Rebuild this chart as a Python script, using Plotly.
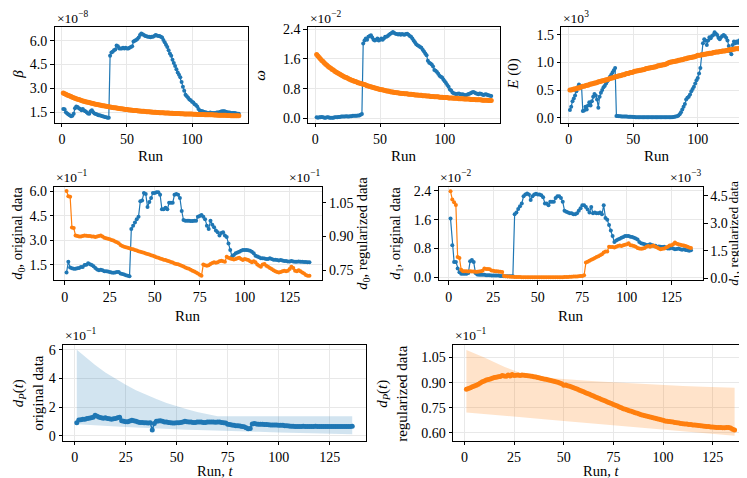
import plotly.graph_objects as go

# ---------------- data ----------------
beta_blue = [1.70,1.68,1.50,1.42,1.35,1.30,1.25,1.28,1.40,1.75,1.85,1.82,1.75,1.70,1.62,1.70,1.60,1.55,1.50,1.42,
             1.40,1.55,1.62,1.50,1.42,1.38,1.35,1.30,1.30,1.28,1.25,1.22,1.20,1.18,1.15,1.15,
             5.05,5.25,5.30,5.40,5.45,5.70,5.65,5.50,5.50,5.50,5.55,5.50,5.55,5.50,5.50,5.55,5.60,5.65,5.95,6.00,
             6.05,6.10,6.20,6.35,6.45,6.40,6.35,6.30,6.28,6.25,6.25,6.22,6.25,6.25,6.30,6.35,6.32,
             6.30,6.30,6.25,6.20,6.05,5.90,5.75,5.60,5.40,5.20,5.05,4.80,4.60,4.40,4.20,4.00,3.85,3.70,3.40,3.10,
             2.85,2.60,2.50,2.40,2.30,2.25,2.15,2.10,2.00,1.95,1.85,1.70,1.60,1.58,1.55,1.52,1.50,
             1.48,1.45,1.45,1.48,1.45,1.45,1.45,1.45,1.48,1.48,1.50,1.52,1.55,1.55,1.55,1.52,1.50,1.48,1.48,1.45,
             1.45,1.45,1.45,1.42,1.40,1.40]
beta_orange = [2.70,2.66,2.62,2.58,2.55,2.51,2.48,2.44,2.41,2.38,2.35,2.32,2.29,2.26,2.23,2.20,2.18,2.16,2.14,2.12,
               2.10,2.08,2.06,2.04,2.02,2.00,1.98,1.96,1.95,1.93,1.91,1.90,1.88,1.87,1.85,1.84,1.82,1.81,1.80,1.78,
               1.77,1.76,1.74,1.73,1.72,1.71,1.70,1.69,1.67,1.66,1.65,1.64,1.63,1.62,1.61,1.61,1.60,1.59,1.58,1.57,
               1.56,1.56,1.55,1.54,1.53,1.53,1.52,1.51,1.51,1.50,1.49,1.49,1.48,1.48,1.47,1.47,1.46,1.46,1.45,1.45,
               1.44,1.44,1.43,1.43,1.43,1.42,1.42,1.41,1.41,1.41,1.40,1.40,1.40,1.39,1.39,1.39,1.38,1.38,1.38,1.38,
               1.37,1.37,1.37,1.36,1.36,1.36,1.35,1.35,1.35,1.34,1.34,1.34,1.33,1.33,1.33,1.33,1.32,1.32,1.32,1.31,
               1.31,1.31,1.31,1.30,1.30,1.30,1.29,1.29,1.29,1.28,1.28,1.28,1.28,1.27,1.27,1.27]

omega_blue = [0.03,0.02,0.03,0.03,0.04,0.03,0.02,0.02,0.03,0.03,0.02,0.02,0.02,0.02,0.03,0.03,0.03,0.04,0.04,0.05,
              0.05,0.05,0.05,0.06,0.05,0.05,0.06,0.06,0.07,0.07,0.07,0.07,0.08,0.08,0.10,0.12,
              2.02,2.10,2.15,2.12,2.20,2.22,2.24,2.18,2.12,2.10,2.12,2.15,2.10,2.12,2.15,2.12,2.15,2.20,2.20,2.22,
              2.25,2.28,2.30,2.33,2.30,2.28,2.27,2.26,2.27,2.25,2.27,2.26,2.25,2.27,2.28,2.25,2.22,
              2.20,2.15,2.10,2.05,2.00,1.97,1.95,1.92,1.90,1.85,1.80,1.75,1.70,1.55,1.50,1.48,1.45,1.40,1.30,1.28,
              1.25,1.20,1.15,1.12,1.10,1.05,1.00,0.95,0.90,0.85,0.78,0.75,0.70,0.68,0.66,0.65,0.66,
              0.67,0.65,0.64,0.65,0.63,0.62,0.63,0.65,0.66,0.68,0.70,0.71,0.70,0.68,0.66,0.65,0.67,0.66,0.64,0.63,
              0.64,0.65,0.63,0.62,0.61,0.60]
omega_orange = [1.72,1.68,1.64,1.60,1.56,1.53,1.49,1.46,1.43,1.40,1.37,1.35,1.32,1.30,1.27,1.25,1.23,1.21,1.19,1.17,
                1.15,1.13,1.11,1.10,1.08,1.06,1.05,1.03,1.02,1.00,0.99,0.98,0.96,0.95,0.94,0.93,0.92,0.91,0.90,0.88,
                0.87,0.86,0.85,0.84,0.83,0.82,0.81,0.80,0.79,0.78,0.77,0.77,0.76,0.75,0.74,0.74,0.73,0.72,0.71,0.71,
                0.70,0.70,0.69,0.69,0.68,0.68,0.67,0.67,0.66,0.66,0.66,0.65,0.65,0.65,0.64,0.64,0.63,0.63,0.63,0.62,
                0.62,0.62,0.61,0.61,0.61,0.60,0.60,0.60,0.59,0.59,0.59,0.58,0.58,0.58,0.58,0.57,0.57,0.57,0.56,0.56,
                0.56,0.56,0.55,0.55,0.55,0.55,0.54,0.54,0.54,0.54,0.53,0.53,0.53,0.53,0.52,0.52,0.52,0.52,0.52,0.51,
                0.51,0.51,0.51,0.50,0.50,0.50,0.50,0.50,0.49,0.49,0.49,0.49,0.49,0.48,0.48,0.48]

e0_blue = [0.14,0.20,0.30,0.35,0.40,0.48,0.55,0.60,0.58,0.57,0.12,0.13,0.20,0.15,0.22,0.28,0.22,0.30,0.38,0.43,
           0.40,0.33,0.18,0.38,0.45,0.50,0.55,0.58,0.62,0.66,0.70,0.74,0.78,0.82,0.86,0.90,
           0.030,0.030,0.025,0.025,0.020,0.020,0.020,0.020,0.020,0.015,0.015,0.015,0.015,0.012,0.012,0.010,0.010,0.010,
           0.008,0.008,0.008,0.008,0.006,0.006,0.006,0.006,0.006,0.006,0.006,0.006,0.006,0.006,0.006,0.006,0.006,0.006,
           0.006,0.006,0.006,0.006,0.006,0.008,0.008,0.010,0.012,0.015,0.020,0.025,
           0.04,0.06,0.10,0.15,0.20,0.25,0.33,0.36,0.38,0.42,0.48,0.52,0.56,0.62,0.68,0.72,0.80,0.90,1.15,1.35,
           1.42,1.40,1.32,1.40,1.46,1.44,1.48,1.50,1.55,1.52,1.50,1.45,1.42,1.46,1.48,1.50,1.48,1.45,1.40,1.30,
           1.20,1.15,1.32,1.38,1.35,1.38,1.36,1.40,1.38,1.42,1.45,1.45]
e0_orange = [0.50,0.50,0.51,0.52,0.52,0.53,0.54,0.54,0.55,0.56,0.57,0.57,0.58,0.59,0.59,0.60,0.61,0.61,0.62,0.63,
             0.63,0.64,0.65,0.65,0.66,0.67,0.67,0.68,0.69,0.69,0.70,0.71,0.72,0.72,0.73,0.74,0.74,0.75,0.76,0.76,
             0.77,0.78,0.78,0.79,0.80,0.80,0.81,0.82,0.82,0.83,0.84,0.84,0.85,0.85,0.86,0.86,0.87,0.87,0.88,0.89,
             0.89,0.90,0.90,0.91,0.91,0.92,0.92,0.93,0.94,0.94,0.95,0.95,0.96,0.96,0.97,0.98,0.99,1.00,1.01,1.01,
             1.02,1.02,1.03,1.03,1.04,1.04,1.05,1.05,1.06,1.07,1.07,1.08,1.08,1.09,1.09,1.10,1.10,1.11,1.12,1.13,
             1.13,1.13,1.14,1.14,1.15,1.15,1.16,1.16,1.17,1.17,1.17,1.18,1.18,1.19,1.19,1.19,1.20,1.20,1.21,1.21,
             1.21,1.22,1.22,1.23,1.23,1.23,1.24,1.24,1.25,1.25,1.25,1.26,1.26,1.26,1.27,1.27]

d0_orig = [1.02,1.68,1.32,1.28,1.25,1.25,1.28,1.30,1.35,1.35,1.48,1.50,1.58,1.52,1.48,1.40,1.30,1.20,1.15,1.18,
           1.15,1.10,1.10,1.08,1.05,1.02,1.00,1.02,1.05,1.05,0.95,0.92,0.90,0.85,0.82,0.78,
           3.70,3.90,4.10,4.30,4.45,5.40,5.45,5.90,5.85,5.05,5.35,5.60,5.90,5.90,5.95,5.95,5.80,4.90,4.90,5.00,
           4.90,5.30,5.30,5.30,5.80,5.85,5.80,5.60,4.80,
           4.25,4.20,4.20,4.20,4.18,4.18,4.20,4.20,4.45,4.50,4.55,4.45,4.30,3.90,3.70,4.20,3.95,3.80,3.60,3.50,
           3.30,3.45,3.50,3.30,3.20,2.80,2.40,2.00,
           2.10,2.20,2.25,2.30,2.35,2.40,2.40,2.40,2.38,2.35,2.30,2.20,2.05,2.00,1.95,1.90,1.90,1.88,1.85,1.85,
           1.90,1.85,1.80,1.80,1.78,1.75,1.78,1.75,1.72,1.72,1.70,1.70,1.72,1.70,1.68,1.68,1.70,1.68,1.68,1.66,
           1.66,1.65,1.65]
d0_reg = [1.103,1.080,1.078,0.940,0.938,0.905,0.902,0.900,0.900,0.902,0.905,0.904,0.903,0.902,0.900,0.900,0.898,0.900,0.903,0.905,
          0.900,0.895,0.892,0.890,0.888,0.885,0.882,0.878,0.875,0.870,0.862,0.858,0.855,0.852,0.850,0.848,0.845,0.843,0.840,0.838,
          0.835,0.832,0.830,0.828,0.825,0.822,0.820,0.817,0.814,0.811,0.808,0.805,0.802,0.800,0.797,0.795,0.792,0.790,0.787,0.784,
          0.780,0.778,0.776,0.773,0.770,0.766,0.762,0.759,0.756,0.752,0.748,0.744,0.740,0.735,0.730,0.725,
          0.775,0.772,0.770,0.772,0.778,0.782,0.785,0.783,0.785,0.790,0.792,0.790,0.788,0.810,
          0.806,0.802,0.800,0.798,0.800,0.803,0.806,0.800,0.795,0.800,0.798,0.795,0.790,0.785,0.790,0.785,0.775,0.770,0.765,0.775,
          0.778,0.770,0.765,0.760,0.755,0.750,0.745,0.742,0.740,0.742,0.745,0.748,0.745,0.748,0.755,0.765,0.760,0.748,0.745,0.750,
          0.745,0.740,0.735,0.728,0.725,0.725]

d1_orig = [1.63,0.89,0.43,0.43,0.25,0.14,0.10,0.10,0.10,0.10,0.12,0.45,0.48,0.43,0.12,0.08,0.07,0.07,0.07,0.07,
           0.06,0.06,0.06,0.05,0.05,0.05,0.05,0.05,0.04,0.04,0.03,0.03,0.03,0.03,0.03,0.03,
           1.75,1.80,1.90,1.97,2.05,2.25,2.30,2.33,2.30,2.15,2.25,2.30,2.32,2.30,2.30,2.28,2.22,2.05,2.05,2.00,
           2.10,2.10,2.10,2.20,2.25,2.25,2.20,2.10,1.85,
           1.82,1.80,1.78,1.78,1.75,1.75,1.78,1.85,1.92,2.00,2.00,1.95,1.88,1.80,1.95,1.78,1.80,1.78,1.78,1.80,
           1.75,2.00,1.65,1.60,1.45,1.30,1.15,0.98,
           1.02,1.05,1.07,1.10,1.12,1.15,1.15,1.15,1.13,1.12,1.10,1.08,1.05,0.98,0.95,0.93,0.92,0.90,0.90,0.92,
           0.90,0.88,0.88,0.85,0.86,0.85,0.84,0.85,0.82,0.80,0.80,0.82,0.80,0.78,0.79,0.80,0.78,0.77,0.78,0.76,
           0.75,0.74,0.75]
d1_reg = [4.75,4.30,4.15,4.00,1.15,1.10,0.45,0.38,0.37,0.37,0.36,0.37,0.36,0.36,0.35,0.35,0.36,0.38,0.40,0.52,
          0.50,0.50,0.48,0.42,0.40,0.38,0.38,0.36,0.35,0.33,0.12,0.10,0.09,0.08,0.07,0.07,0.06,0.06,0.06,0.06,
          0.05,0.05,0.05,0.05,0.05,0.05,0.05,0.05,0.05,0.05,0.05,0.05,0.05,0.05,0.05,0.05,0.05,0.05,0.05,0.05,
          0.05,0.05,0.05,0.05,0.06,0.06,0.06,0.07,0.07,0.08,0.08,0.09,0.10,0.11,0.12,0.15,
          0.85,0.90,0.95,1.00,1.05,1.10,1.15,1.20,1.25,1.30,1.40,1.45,1.45,1.72,
          1.70,1.70,1.68,1.72,1.75,1.78,1.75,1.80,1.82,1.85,1.90,1.80,1.78,1.75,1.72,1.65,1.62,1.60,1.62,1.65,
          1.72,1.75,1.72,1.75,1.78,1.72,1.68,1.62,1.58,1.60,1.62,1.68,1.72,1.78,1.80,1.85,1.95,1.88,1.85,1.82,
          1.80,1.78,1.75,1.72,1.68,1.65]

dp_orig = [0.90,1.10,1.12,1.15,1.15,1.20,1.22,1.25,1.28,1.42,1.35,1.28,1.25,1.22,1.25,1.20,1.18,1.15,1.18,1.20,
           1.25,1.28,1.05,1.00,0.98,0.98,1.02,1.08,1.05,1.00,0.95,0.92,0.92,0.90,0.90,0.88,0.90,0.40,0.85,1.00,
           1.02,1.05,1.00,0.95,0.95,0.92,0.90,0.88,0.88,0.90,0.90,0.92,0.95,1.00,0.98,0.95,0.95,0.92,0.92,0.95,
           0.95,0.95,0.92,0.92,0.95,0.95,0.95,0.95,0.93,0.95,0.95,0.92,0.90,0.88,0.80,0.78,0.75,0.72,0.70,0.70,
           0.68,0.65,0.62,0.55,0.48,0.50,0.82,0.85,0.82,0.80,0.80,0.80,0.78,0.78,0.77,0.75,0.75,0.75,0.74,0.73,
           0.72,0.72,0.70,0.70,0.68,0.66,0.66,0.65,0.65,0.65,0.65,0.66,0.65,0.65,0.64,0.65,0.65,0.66,0.65,0.65,
           0.65,0.65,0.64,0.65,0.65,0.64,0.64,0.65,0.65,0.64,0.64,0.65,0.65,0.64,0.65,0.66]
dp_orig_band_runs = [1,5,10,15,20,25,30,35,40,45,50,55,60,65,68,70,80,90,100,110,120,130,136]
dp_orig_band_hi = [6.00,5.50,4.93,4.42,3.96,3.55,3.18,2.85,2.56,2.29,2.05,1.84,1.65,1.48,1.40,1.35,1.35,1.35,1.35,1.35,1.35,1.35,1.35]
dp_orig_band_lo = [0.80,0.76,0.72,0.68,0.64,0.60,0.57,0.53,0.50,0.47,0.45,0.42,0.40,0.37,0.36,0.35,0.31,0.27,0.23,0.19,0.15,0.12,0.10]

dp_reg = [0.860,0.865,0.870,0.875,0.880,0.885,0.890,0.898,0.905,0.910,0.915,0.918,0.922,0.926,0.930,0.932,0.935,0.937,0.942,0.940,
          0.938,0.945,0.940,0.948,0.942,0.944,0.946,0.943,0.945,0.944,0.942,0.941,0.940,0.938,0.935,0.933,0.930,0.928,0.925,0.922,
          0.920,0.917,0.914,0.911,0.908,0.905,0.902,0.898,0.893,0.885,0.886,0.882,0.878,0.874,0.870,0.865,0.860,0.855,0.850,0.845,
          0.840,0.835,0.830,0.825,0.820,0.815,0.810,0.805,0.800,0.795,0.790,0.785,0.780,0.775,0.770,0.765,0.760,0.755,0.750,0.745,
          0.741,0.737,0.733,0.729,0.725,0.721,0.717,0.713,0.709,0.705,0.702,0.699,0.696,0.693,0.690,0.687,0.684,0.681,0.678,0.676,
          0.672,0.670,0.668,0.667,0.665,0.663,0.661,0.659,0.657,0.655,0.654,0.653,0.651,0.650,0.648,0.647,0.646,0.645,0.643,0.642,
          0.640,0.639,0.638,0.636,0.635,0.634,0.633,0.632,0.632,0.631,0.631,0.632,0.633,0.630,0.622,0.618]
dp_reg_band_runs = [1,10,20,30,40,50,60,70,80,90,100,110,120,130,136]
dp_reg_band_hi = [1.095,1.050,0.995,0.950,0.930,0.920,0.912,0.905,0.898,0.892,0.886,0.880,0.875,0.871,0.869]
dp_reg_band_lo = [0.722,0.712,0.702,0.692,0.682,0.672,0.662,0.652,0.642,0.632,0.622,0.612,0.600,0.590,0.583]

x_ticks_row1 = [0, 50, 100]
x_ticks = [0, 25, 50, 75, 100, 125]

# ---------------- styling ----------------
BLUE = "#1f77b4"
ORANGE = "#ff7f0e"
FONT = "Liberation Serif"
TICK_SIZE = 14
TITLE_SIZE = 15
EXP_SIZE = 13.5
W, H = 747, 478
XR = [-5.75, 142.75]


def runs(v):
    return list(range(1, len(v) + 1))


def fx(px):
    return px / W


def fy(py):
    return 1 - py / H


def xd(a, b):
    return [max(0.0, fx(a)), min(1.0, fx(b))]


def yd(top, bottom):
    return [max(0.0, fy(bottom)), min(1.0, fy(top))]


fig = go.Figure()


def series(y, xa, ya, color, msize=4, lw=1.2):
    fig.add_trace(go.Scatter(x=runs(y), y=y, xaxis=xa, yaxis=ya, mode="lines+markers",
                             line=dict(color=color, width=lw),
                             marker=dict(color=color, size=msize, line=dict(width=0)),
                             showlegend=False, hoverinfo="skip"))


def band(xs, lo, hi, xa, ya, fill):
    fig.add_trace(go.Scatter(x=xs, y=lo, xaxis=xa, yaxis=ya, mode="lines",
                             line=dict(width=0, color=fill), showlegend=False, hoverinfo="skip"))
    fig.add_trace(go.Scatter(x=xs, y=hi, xaxis=xa, yaxis=ya, mode="lines", fill="tonexty",
                             fillcolor=fill, line=dict(width=0, color=fill),
                             showlegend=False, hoverinfo="skip"))


# row 1
series(beta_blue, "x", "y", BLUE)
series(beta_orange, "x", "y", ORANGE, msize=5, lw=2)
series(omega_blue, "x2", "y2", BLUE)
series(omega_orange, "x2", "y2", ORANGE, msize=5, lw=2)
series(e0_blue, "x3", "y3", BLUE)
series(e0_orange, "x3", "y3", ORANGE, msize=5, lw=2)
# row 2
series(d0_orig, "x4", "y4", BLUE)
series(d0_reg, "x4", "y5", ORANGE)
series(d1_orig, "x5", "y6", BLUE)
series(d1_reg, "x5", "y7", ORANGE)
# row 3
band(dp_orig_band_runs, dp_orig_band_lo, dp_orig_band_hi, "x6", "y8", "rgba(31,119,180,0.2)")
series(dp_orig, "x6", "y8", BLUE, msize=5, lw=1.5)
band(dp_reg_band_runs, dp_reg_band_lo, dp_reg_band_hi, "x7", "y9", "rgba(255,127,14,0.22)")
series(dp_reg, "x7", "y9", ORANGE, msize=5, lw=1.5)

tickfont = dict(family=FONT, size=TICK_SIZE, color="black")
GRID = "#e8e8e8"


def xaxis(dom, anchor, tickvals, rng=XR):
    return dict(domain=xd(*dom), anchor=anchor, range=rng, tickvals=tickvals,
                ticktext=[str(t) for t in tickvals], showgrid=True, gridcolor=GRID, gridwidth=1,
                zeroline=False, showline=True, linecolor="black", linewidth=1, mirror=True,
                ticks="outside", ticklen=3.5, tickwidth=1, tickcolor="black", tickfont=tickfont)


def yaxis(dom, anchor, rng, tickvals, ticktext, grid=True, mirror=True):
    return dict(domain=yd(*dom), anchor=anchor, range=rng, tickvals=tickvals, ticktext=ticktext,
                showgrid=grid, gridcolor=GRID, gridwidth=1, zeroline=False, showline=True,
                linecolor="black", linewidth=1, mirror=mirror, ticks="outside", ticklen=3.5,
                tickwidth=1, tickcolor="black", tickfont=tickfont)


# panel frames in window pixels
R1 = (15, 113)
R2 = (179, 274)
R3 = (340, 438)
P1 = (46.5, 239.6)
P2 = (299.9, 492)
P3 = (553.2, 745)
P4 = (46.4, 313.6)
P5 = (430.5, 695)
P6 = (55, 358)
P7 = (445, 740)

layout = dict(
    width=W, height=H, margin=dict(l=0, r=0, t=0, b=0),
    paper_bgcolor="white", plot_bgcolor="white",
    font=dict(family=FONT, size=TICK_SIZE, color="black"),
    xaxis=xaxis(P1, "y", x_ticks_row1),
    yaxis=yaxis(R1, "x", [0.84, 6.88], [1.5, 3.0, 4.5, 6.0], ["1.5", "3.0", "4.5", "6.0"]),
    xaxis2=xaxis(P2, "y2", x_ticks_row1),
    yaxis2=yaxis(R1, "x2", [-0.115, 2.47], [0, 0.8, 1.6, 2.4], ["0.0", "0.8", "1.6", "2.4"]),
    xaxis3=xaxis(P3, "y3", x_ticks_row1),
    yaxis3=yaxis(R1, "x3", [-0.09, 1.65], [0, 0.5, 1.0, 1.5], ["0.0", "0.5", "1.0", "1.5"]),
    xaxis4=xaxis(P4, "y4", x_ticks),
    yaxis4=yaxis(R2, "x4", [0.54, 6.26], [1.5, 3.0, 4.5, 6.0], ["1.5", "3.0", "4.5", "6.0"], mirror=False),
    yaxis5=dict(yaxis(R2, "x4", [0.705, 1.12], [0.75, 0.90, 1.05], ["0.75", "0.90", "1.05"], grid=False, mirror=False),
                overlaying="y4", side="right"),
    xaxis5=xaxis(P5, "y6", x_ticks),
    yaxis6=yaxis(R2, "x5", [-0.08, 2.5], [0, 0.8, 1.6, 2.4], ["0.0", "0.8", "1.6", "2.4"], mirror=False),
    yaxis7=dict(yaxis(R2, "x5", [-0.12, 4.97], [0, 1.5, 3.0, 4.5], ["0.0", "1.5", "3.0", "4.5"], grid=False, mirror=False),
                overlaying="y6", side="right"),
    xaxis6=xaxis(P6, "y8", x_ticks),
    yaxis8=yaxis(R3, "x6", [-0.36, 6.34], [0, 2, 4, 6], ["0", "2", "4", "6"]),
    xaxis7=xaxis(P7, "y9", x_ticks),
    yaxis9=yaxis(R3, "x7", [0.553, 1.125], [0.60, 0.75, 0.90, 1.05], ["0.60", "0.75", "0.90", "1.05"]),
)
fig.update_layout(**layout)

ann = []


def text(x, y, s, size=TITLE_SIZE, angle=0, xanchor="center", yanchor="middle"):
    ann.append(dict(x=fx(x), y=fy(y), xref="paper", yref="paper", text=s, showarrow=False,
                    textangle=angle, xanchor=xanchor, yanchor=yanchor,
                    font=dict(family=FONT, size=size, color="black")))


# exponent labels
text(P1[0], R1[0] + 1, "×10<sup>−8</sup>", EXP_SIZE, xanchor="left", yanchor="bottom")
text(P2[0], R1[0] + 1, "×10<sup>−2</sup>", EXP_SIZE, xanchor="left", yanchor="bottom")
text(P3[0], R1[0] + 1, "×10<sup>3</sup>", EXP_SIZE, xanchor="left", yanchor="bottom")
text(P4[0], R2[0], "×10<sup>−1</sup>", EXP_SIZE, xanchor="left", yanchor="bottom")
text(P4[1], R2[0], "×10<sup>−1</sup>", EXP_SIZE, xanchor="right", yanchor="bottom")
text(P5[0], R2[0], "×10<sup>−2</sup>", EXP_SIZE, xanchor="left", yanchor="bottom")
text(P5[1], R2[0], "×10<sup>−3</sup>", EXP_SIZE, xanchor="right", yanchor="bottom")
text(P6[0], R3[0], "×10<sup>−1</sup>", EXP_SIZE, xanchor="left", yanchor="bottom")
text(P7[0], R3[0], "×10<sup>−1</sup>", EXP_SIZE, xanchor="left", yanchor="bottom")

# y titles (rotated; positions compensate for the rotated text box offset)
mid1 = (R1[0] + R1[1]) / 2
mid2 = (R2[0] + R2[1]) / 2
mid3 = (R3[0] + R3[1]) / 2
text(10, mid1, "<i>β</i>", angle=-90)
text(252, mid1, "<i>ω</i>", angle=-90)
text(506, mid1, "<i>E</i> (0)", angle=-90)
text(10, mid2, "<i>d</i><sub>0</sub>, original data", 14.5, angle=-90)
text(355, mid2, "<i>d</i><sub>0</sub>, regularized data", 14.5, angle=-90)
text(388, mid2, "<i>d</i><sub>1</sub>, original data", 14.5, angle=-90)
text(727, mid2, "<i>d</i><sub>1</sub>, regularized data", 13.5, angle=-90)
text(20, mid3, "<i>d<sub>P</sub></i>(<i>t</i>)<br>original data", angle=-90)
text(384, mid3, "<i>d<sub>P</sub></i>(<i>t</i>)<br>regularized data", angle=-90)

# x titles
for p in (P1, P2, P3):
    text((p[0] + p[1]) / 2, 147, "Run")
for p in (P4, P5):
    text((p[0] + p[1]) / 2, 311, "Run")
for p in (P6, P7):
    text((p[0] + p[1]) / 2, 469, "Run, <i>t</i>", 14.5)

fig.update_layout(annotations=ann)
fig.write_html("out.html")
